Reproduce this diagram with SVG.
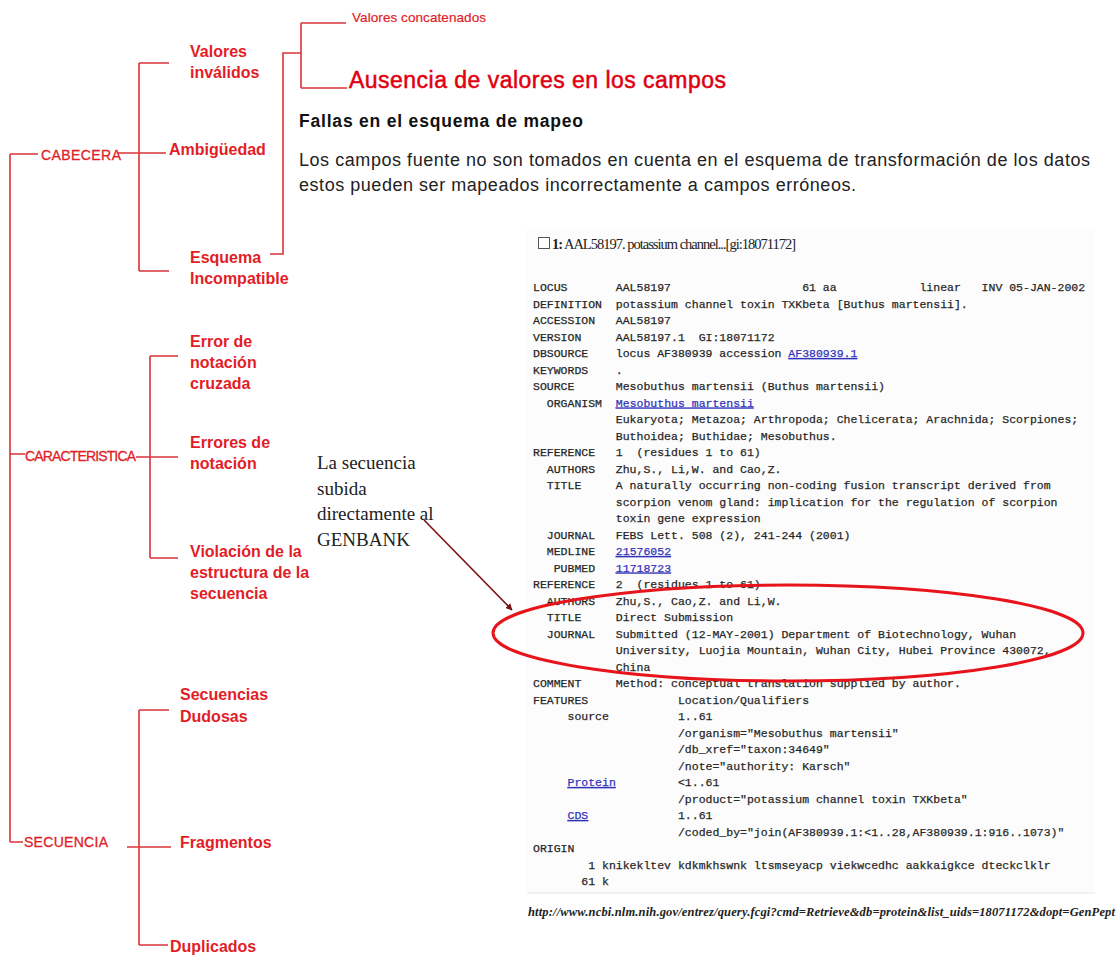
<svg xmlns="http://www.w3.org/2000/svg" width="1118" height="958" viewBox="0 0 1118 958">
<style>
.ln{stroke:#d9333a;stroke-width:1.6;fill:none}
.lbl{font-family:"Liberation Sans",Arial,sans-serif;font-weight:bold;font-size:16px;fill:#e21d26}
.root{font-family:"Liberation Sans",Arial,sans-serif;font-size:14px;fill:#e21d26;stroke:#e21d26;stroke-width:0.3}
.mono text{font-family:"Liberation Mono","Courier New",monospace;font-size:11.5px;fill:#1a1a1a;stroke:#333;stroke-width:0.25;white-space:pre}
.lnk{fill:#3333bb;stroke:#3333bb;text-decoration:underline}
.note{font-family:"Liberation Serif","Times New Roman",serif;font-size:19px;fill:#222}
</style>
<defs>
<marker id="ah" viewBox="0 0 10 10" refX="9" refY="5" markerWidth="7" markerHeight="7" orient="auto" markerUnits="userSpaceOnUse">
<path d="M0,0 L10,5 L0,10 z" fill="#7a1414"/>
</marker>
</defs>
<rect width="1118" height="958" fill="#ffffff"/>

<g id="connectors">
<path class="ln" d="M10,154 V842 M10,154 H38 M10,454 H25 M10,842 H23"/>
<path class="ln" d="M118,153 H166 M139,63 V271 M139,63 H169 M139,271 H169"/>
<path class="ln" d="M136,457 H178 M150,356 V558 M150,356 H178 M150,558 H178"/>
<path class="ln" d="M127,847 H171 M139,710 V945 M139,710 H169 M139,945 H168"/>
<path class="ln" d="M270,254 H283 V53 H301 M301,23 V88 M301,23 H346 M301,88 H347"/>
<path d="M424,520 L512,610" stroke="#7a1414" stroke-width="1.6" fill="none" marker-end="url(#ah)"/>
</g>

<g id="cabecera"><text class="root" x="41" y="160" textLength="80">CABECERA</text></g>
<g id="caracteristica"><text class="root" x="25" y="461" textLength="111">CARACTERISTICA</text></g>
<g id="secuencia"><text class="root" x="24" y="847" textLength="84">SECUENCIA</text></g>

<g id="valores-invalidos"><text class="lbl" x="190" y="57">Valores</text><text class="lbl" x="190" y="78">inválidos</text></g>
<g id="ambiguedad"><text class="lbl" x="169" y="155">Ambigüedad</text></g>
<g id="esquema-incompatible"><text class="lbl" x="190" y="263">Esquema</text><text class="lbl" x="190" y="284">Incompatible</text></g>

<g id="error-notacion-cruzada"><text class="lbl" x="190" y="347">Error de</text><text class="lbl" x="190" y="368">notación</text><text class="lbl" x="190" y="389">cruzada</text></g>
<g id="errores-notacion"><text class="lbl" x="190" y="448">Errores de</text><text class="lbl" x="190" y="469">notación</text></g>
<g id="violacion"><text class="lbl" x="190" y="557">Violación de la</text><text class="lbl" x="190" y="578">estructura de la</text><text class="lbl" x="190" y="599">secuencia</text></g>

<g id="secuencias-dudosas"><text class="lbl" x="180" y="700">Secuencias</text><text class="lbl" x="180" y="722">Dudosas</text></g>
<g id="fragmentos"><text class="lbl" x="180" y="848">Fragmentos</text></g>
<g id="duplicados"><text class="lbl" x="170" y="952">Duplicados</text></g>

<g id="valores-concatenados"><text x="352" y="22" font-family="Liberation Sans,Arial,sans-serif" font-size="13.5" fill="#e21d26" stroke="#e21d26" stroke-width="0.2" textLength="134">Valores concatenados</text></g>
<g id="ausencia"><text x="349" y="88" font-family="Liberation Sans,Arial,sans-serif" font-size="23" fill="#e00010" stroke="#e00010" stroke-width="0.5" textLength="377">Ausencia de valores en los campos</text></g>

<g id="fallas">
<text x="299" y="127" font-family="Liberation Sans,Arial,sans-serif" font-weight="bold" font-size="17.5" fill="#111" textLength="284">Fallas en el esquema de mapeo</text>
<text x="299" y="166" font-family="Liberation Sans,Arial,sans-serif" font-size="18" fill="#222" textLength="791">Los campos fuente no son tomados en cuenta en el esquema de transformación de los datos</text>
<text x="299" y="191" font-family="Liberation Sans,Arial,sans-serif" font-size="18" fill="#222" textLength="557">estos pueden ser mapeados incorrectamente a campos erróneos.</text>
</g>

<g id="nota-genbank">
<text class="note" x="317" y="469">La secuencia</text>
<text class="note" x="317" y="495">subida</text>
<text class="note" x="317" y="520">directamente al</text>
<text class="note" x="317" y="546">GENBANK</text>
</g>

<g id="genbank-record">
<rect x="527" y="228" width="568" height="665" fill="#fcfcfc"/>
<line x1="527" y1="893" x2="1095" y2="893" stroke="#e6e6e6" stroke-width="1"/>
<rect x="538.5" y="237.5" width="11" height="11" fill="#fff" stroke="#555" stroke-width="1"/>
<text x="552" y="249" font-family="Liberation Serif,Times New Roman,serif" font-size="14.5" fill="#222" textLength="244"><tspan font-weight="bold">1:</tspan> AAL58197. potassium channel...[gi:18071172]</text>
<g class="mono">
<text xml:space="preserve" x="533" y="291">LOCUS       AAL58197                   61 aa            linear   INV 05-JAN-2002</text>
<text xml:space="preserve" x="533" y="307.5">DEFINITION  potassium channel toxin TXKbeta [Buthus martensii].</text>
<text xml:space="preserve" x="533" y="324">ACCESSION   AAL58197</text>
<text xml:space="preserve" x="533" y="340.5">VERSION     AAL58197.1  GI:18071172</text>
<text xml:space="preserve" x="533" y="357">DBSOURCE    locus AF380939 accession <tspan class="lnk">AF380939.1</tspan></text>
<text xml:space="preserve" x="533" y="373.5">KEYWORDS    .</text>
<text xml:space="preserve" x="533" y="390">SOURCE      Mesobuthus martensii (Buthus martensii)</text>
<text xml:space="preserve" x="533" y="406.5">  ORGANISM  <tspan class="lnk">Mesobuthus martensii</tspan></text>
<text xml:space="preserve" x="533" y="423">            Eukaryota; Metazoa; Arthropoda; Chelicerata; Arachnida; Scorpiones;</text>
<text xml:space="preserve" x="533" y="439.5">            Buthoidea; Buthidae; Mesobuthus.</text>
<text xml:space="preserve" x="533" y="456">REFERENCE   1  (residues 1 to 61)</text>
<text xml:space="preserve" x="533" y="472.5">  AUTHORS   Zhu,S., Li,W. and Cao,Z.</text>
<text xml:space="preserve" x="533" y="489">  TITLE     A naturally occurring non-coding fusion transcript derived from</text>
<text xml:space="preserve" x="533" y="505.5">            scorpion venom gland: implication for the regulation of scorpion</text>
<text xml:space="preserve" x="533" y="522">            toxin gene expression</text>
<text xml:space="preserve" x="533" y="538.5">  JOURNAL   FEBS Lett. 508 (2), 241-244 (2001)</text>
<text xml:space="preserve" x="533" y="555">  MEDLINE   <tspan class="lnk">21576052</tspan></text>
<text xml:space="preserve" x="533" y="571.5">   PUBMED   <tspan class="lnk">11718723</tspan></text>
<text xml:space="preserve" x="533" y="588">REFERENCE   2  (residues 1 to 61)</text>
<text xml:space="preserve" x="533" y="604.5">  AUTHORS   Zhu,S., Cao,Z. and Li,W.</text>
<text xml:space="preserve" x="533" y="621">  TITLE     Direct Submission</text>
<text xml:space="preserve" x="533" y="637.5">  JOURNAL   Submitted (12-MAY-2001) Department of Biotechnology, Wuhan</text>
<text xml:space="preserve" x="533" y="654">            University, Luojia Mountain, Wuhan City, Hubei Province 430072,</text>
<text xml:space="preserve" x="533" y="670.5">            China</text>
<text xml:space="preserve" x="533" y="687">COMMENT     Method: conceptual translation supplied by author.</text>
<text xml:space="preserve" x="533" y="703.5">FEATURES             Location/Qualifiers</text>
<text xml:space="preserve" x="533" y="720">     source          1..61</text>
<text xml:space="preserve" x="533" y="736.5">                     /organism="Mesobuthus martensii"</text>
<text xml:space="preserve" x="533" y="753">                     /db_xref="taxon:34649"</text>
<text xml:space="preserve" x="533" y="769.5">                     /note="authority: Karsch"</text>
<text xml:space="preserve" x="533" y="786">     <tspan class="lnk">Protein</tspan>         &lt;1..61</text>
<text xml:space="preserve" x="533" y="802.5">                     /product="potassium channel toxin TXKbeta"</text>
<text xml:space="preserve" x="533" y="819">     <tspan class="lnk">CDS</tspan>             1..61</text>
<text xml:space="preserve" x="533" y="835.5">                     /coded_by="join(AF380939.1:&lt;1..28,AF380939.1:916..1073)"</text>
<text xml:space="preserve" x="533" y="852">ORIGIN</text>
<text xml:space="preserve" x="533" y="868.5">        1 knikekltev kdkmkhswnk ltsmseyacp viekwcedhc aakkaigkce dteckclklr</text>
<text xml:space="preserve" x="533" y="885">       61 k</text>
</g>
<ellipse cx="788" cy="633" rx="295" ry="48" fill="none" stroke="#e8141c" stroke-width="3"/>
</g>

<g id="url"><text x="528" y="916" font-family="Liberation Serif,Times New Roman,serif" font-style="italic" font-weight="bold" font-size="12.5" fill="#222" textLength="587">http://www.ncbi.nlm.nih.gov/entrez/query.fcgi?cmd=Retrieve&amp;db=protein&amp;list_uids=18071172&amp;dopt=GenPept</text></g>
</svg>
